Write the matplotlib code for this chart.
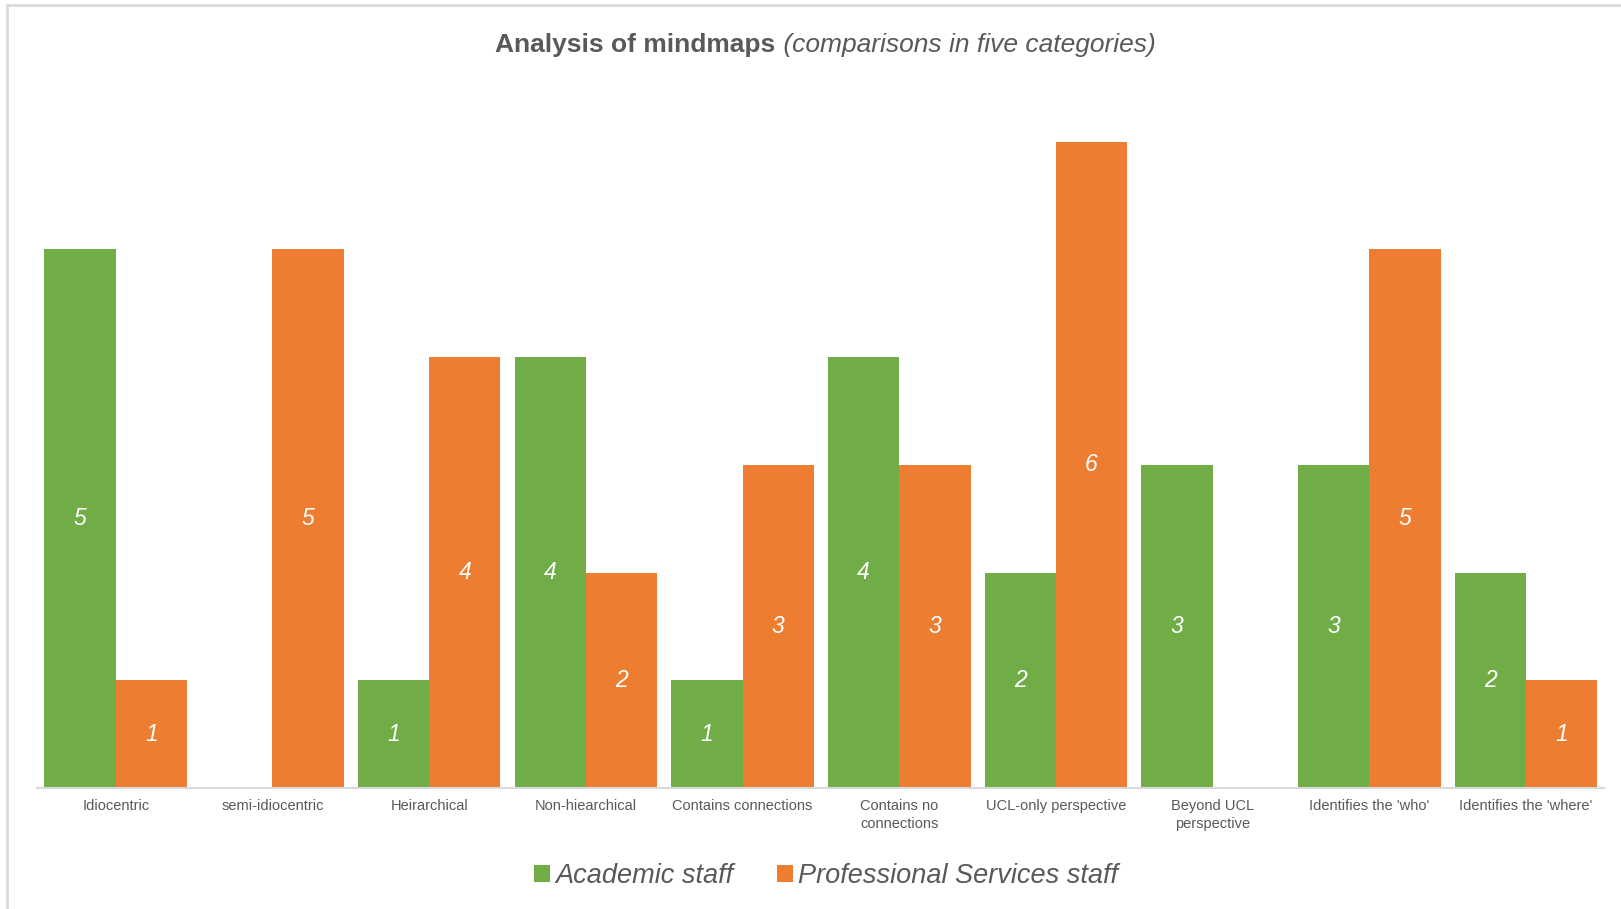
import numpy as np
import matplotlib
matplotlib.use("Agg")
import matplotlib.pyplot as plt
from matplotlib.patches import Rectangle

plt.rcParams['font.family'] = ['Liberation Sans', 'DejaVu Sans']

# data
categories = ["Idiocentric", "semi-idiocentric", "Heirarchical", "Non-hiearchical",
              "Contains connections", "Contains no\nconnections", "UCL-only perspective",
              "Beyond UCL\nperspective", "Identifies the 'who'", "Identifies the 'where'"]
academic = [5, 0, 1, 4, 1, 4, 2, 3, 3, 2]
professional = [1, 5, 4, 2, 3, 3, 6, 0, 5, 1]

green = "#70AD47"
orange = "#ED7D31"
grey = "#595959"

fig = plt.figure(figsize=(16.21, 9.09), dpi=100)
ax = fig.add_axes([0.0231, 0.133, 0.9666, 0.8296])

x = np.arange(len(categories))
w = 0.455
b1 = ax.bar(x - w / 2, academic, w, color=green, label="Academic staff")
b2 = ax.bar(x + w / 2, professional, w, color=orange, label="Professional Services staff")

# value labels in the middle of each bar (skip zeros)
for bars, vals in [(b1, academic), (b2, professional)]:
    for rect, v in zip(bars, vals):
        if v == 0:
            continue
        ax.text(rect.get_x() + rect.get_width() / 2, v / 2, str(v),
                ha="center", va="center", color="white", style="italic", fontsize=16.5)

ax.set_xlim(-0.5, len(categories) - 0.5)
ax.set_ylim(0, 7)
ax.set_xticks(x)
ax.set_xticklabels(categories, fontsize=10.5, color=grey, linespacing=1.35)
ax.tick_params(axis="x", length=0, pad=8)
ax.set_yticks([])
for s in ["top", "right", "left"]:
    ax.spines[s].set_visible(False)
ax.spines["bottom"].set_color("#d9d9d9")
ax.spines["bottom"].set_linewidth(1.5)

# title: bold part + italic part
fig.text(0.4785, 0.951, "Analysis of mindmaps", ha="right", va="center",
         fontsize=19, fontweight="bold", color=grey)
fig.text(0.4785, 0.951, " (comparisons in five categories)", ha="left", va="center",
         fontsize=19, style="italic", color=grey)

leg = fig.legend(loc="center", bbox_to_anchor=(0.5096, 0.036), ncol=2, frameon=False,
                 prop={"size": 19.5, "style": "italic"}, handlelength=0.6, handleheight=0.6,
                 handletextpad=0.2, columnspacing=1.6)
for t in leg.get_texts():
    t.set_color(grey)

# light frame around the chart area
fig.patches.append(Rectangle((0.0043, -0.05), 1.1, 1.0445, transform=fig.transFigure,
                             fill=False, edgecolor="#d9d9d9", linewidth=2))

fig.savefig("out.png", dpi=100)
